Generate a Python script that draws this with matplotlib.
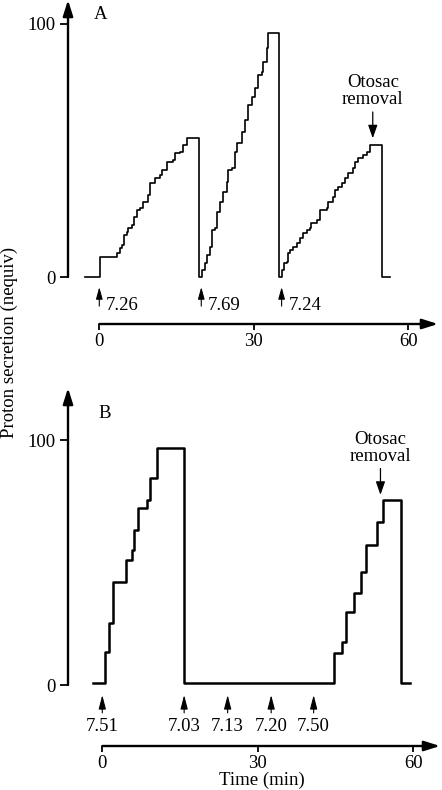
import matplotlib
matplotlib.use("Agg")
import matplotlib.pyplot as plt

# ---------------- data ----------------
# Panel A: staircase trace (time in min, proton secretion in nequiv)
A_time = [-2.8, 0.1, 3.4, 4.0, 4.35, 4.7, 5.3, 5.6, 6.3, 6.8, 7.3, 7.9, 8.5, 9.5, 9.8,
          10.8, 11.8, 12.1, 13.1, 14.4, 14.7, 15.7, 16.3, 17.0, 19.4,
          19.9, 20.5, 21.0, 21.5, 21.8, 22.5, 22.8, 23.4, 24.1, 24.7, 25.0, 25.7, 26.4,
          26.7, 27.7, 28.3, 28.9, 29.6, 30.2, 30.9, 31.5, 31.8, 32.5, 32.8, 34.8,
          35.5, 35.9, 36.4, 36.7, 37.0, 37.7, 38.3, 39.0, 39.6, 40.3, 40.9, 41.2, 42.2,
          42.9, 44.2, 44.5, 45.4, 45.8, 46.4, 47.1, 47.7, 48.3, 49.3, 49.7, 50.3, 51.3,
          51.9, 52.6, 54.8, 56.4]
A_level = [0, 8.0, 9.4, 11.3, 12.6, 16.6, 17.9, 19.2, 20.6, 23.8, 26.5, 27.1, 29.8, 32.4, 37.0,
           39.0, 40.3, 42.3, 45.6, 46.2, 48.9, 49.5, 52.2, 54.8, 0,
           2.8, 5.4, 8.7, 12.0, 18.6, 19.2, 25.8, 29.8, 33.7, 37.7, 42.3, 43.0, 49.5,
           52.8, 57.4, 62.1, 68.0, 71.3, 74.6, 79.8, 81.1, 85.1, 90.4, 96.3, 0,
           2.8, 5.4, 6.1, 9.4, 10.7, 12.0, 13.3, 15.3, 17.3, 18.6, 19.2, 21.2, 22.5,
           26.5, 27.1, 29.8, 31.8, 34.4, 35.7, 37.0, 39.0, 41.0, 43.0, 45.6, 47.0, 48.2,
           49.5, 52.2, 0, 0]
A_ph_time = [0, 19.8, 35.4]
A_ph_label = ["7.26", "7.69", "7.24"]
A_removal_time = 53.1
A_removal_level = 54.8

# Panel B
B_time = [-1.7, 0.5, 1.2, 2.1, 4.6, 5.7, 6.2, 6.9, 8.7, 9.3, 10.6, 15.8,
          44.8, 46.2, 47.0, 48.6, 50.0, 51.0, 53.1, 54.1, 57.7, 59.4]
B_level = [1.0, 13.6, 25.2, 42.2, 51.0, 55.0, 63.3, 72.1, 75.5, 84.4, 96.6, 0.8,
           12.9, 17.7, 29.9, 37.4, 46.3, 57.1, 66.7, 75.5, 1.0, 1.0]
B_ph_time = [0, 15.8, 24.2, 32.6, 40.8]
B_ph_label = ["7.51", "7.03", "7.13", "7.20", "7.50"]
B_removal_time = 53.7
B_removal_level = 77.6

x_ticks = [0, 30, 60]
x_tick_labels = ["0", "30", "60"]
y_ticks = [0, 100]
y_tick_labels = ["0", "100"]

# ---------------- style ----------------
FS = 13.5
plt.rcParams["font.family"] = ["Liberation Serif", "DejaVu Serif"]
plt.rcParams["font.size"] = FS

W, H = 442, 790
fig = plt.figure(figsize=(W / 100, H / 100), dpi=100)


def make_axes(left, right, top, bottom, x0, sx, y0, sy):
    ax = fig.add_axes([left / W, 1 - bottom / H, (right - left) / W, (bottom - top) / H])
    ax.set_xlim((left - x0) / sx, (right - x0) / sx)
    ax.set_ylim((y0 - bottom) / sy, (y0 - top) / sy)
    ax.patch.set_alpha(0)
    for s in ax.spines.values():
        s.set_visible(False)
    xl, yl = ax.get_xlim(), ax.get_ylim()
    axis_arrow = dict(arrowstyle="-|>,head_length=0.95,head_width=0.3", color="k",
                      lw=1.7, shrinkA=0, shrinkB=0, mutation_scale=10)
    ax.annotate("", xy=(xl[0], yl[1]), xytext=(xl[0], 0), arrowprops=axis_arrow,
                annotation_clip=False)
    ax.annotate("", xy=(xl[1], yl[0]), xytext=(0, yl[0]), arrowprops=axis_arrow,
                annotation_clip=False)
    ax.set_xticks(x_ticks, x_tick_labels)
    ax.set_yticks(y_ticks, y_tick_labels)
    ax.tick_params(axis="x", direction="out", length=4.5, width=1.3, pad=2.0, labelsize=FS)
    ax.tick_params(axis="y", direction="out", length=5.8, width=1.3, pad=3.0, labelsize=FS)
    return ax


def removal(ax, t, v):
    ax.annotate("", xy=(t, v), xytext=(0, 19), textcoords="offset points",
                arrowprops=dict(arrowstyle="-|>,head_length=0.8,head_width=0.28",
                                color="k", lw=0.9, shrinkA=0, shrinkB=0, mutation_scale=10))
    ax.annotate("Otosac\nremoval", xy=(t, v), xytext=(0, 21.5), textcoords="offset points",
                ha="center", va="bottom", linespacing=1.0, fontsize=FS)


# ---------------- panel A ----------------
axA = make_axes(68, 438, 0, 324, 99.3, 5.15, 277, 2.53)
axA.plot(A_time, A_level, drawstyle="steps-post", color="k", lw=1.2)
for t, lab in zip(A_ph_time, A_ph_label):
    axA.annotate("", xy=(t, -4.0), xytext=(t, -11.5),
                 arrowprops=dict(arrowstyle="-|>,head_length=0.72,head_width=0.2",
                                 color="k", lw=0.8, shrinkA=0, shrinkB=0, mutation_scale=10),
                 annotation_clip=False)
    axA.annotate(lab, xy=(t, -11.1), xytext=(5.0, 0), textcoords="offset points",
                 ha="left", va="center", fontsize=FS, annotation_clip=False)
removal(axA, A_removal_time, A_removal_level)
axA.text(0.33, 103.6, "A", ha="center", va="center", fontsize=FS)

# ---------------- panel B ----------------
axB = make_axes(68, 440, 388, 746, 102.3, 5.18, 685, 2.45)
axB.plot(B_time, B_level, drawstyle="steps-post", color="k", lw=1.8)
for t, lab in zip(B_ph_time, B_ph_label):
    axB.annotate("", xy=(t, -4.1), xytext=(t, -11.4),
                 arrowprops=dict(arrowstyle="-|>,head_length=0.85,head_width=0.22",
                                 color="k", lw=0.8, shrinkA=0, shrinkB=0, mutation_scale=10),
                 annotation_clip=False)
    axB.text(t, -17.1, lab, ha="center", va="center", fontsize=FS)
removal(axB, B_removal_time, B_removal_level)
axB.text(0.5, 111, "B", ha="center", va="center", fontsize=FS)

# ---------------- shared labels ----------------
fig.text(9 / W, 1 - 342 / H, "Proton secretion (nequiv)", rotation=90,
         ha="center", va="center", fontsize=FS)
fig.text(262 / W, 1 - 789 / H, "Time (min)", ha="center", va="bottom", fontsize=FS)

fig.savefig("out.png", dpi=100)
